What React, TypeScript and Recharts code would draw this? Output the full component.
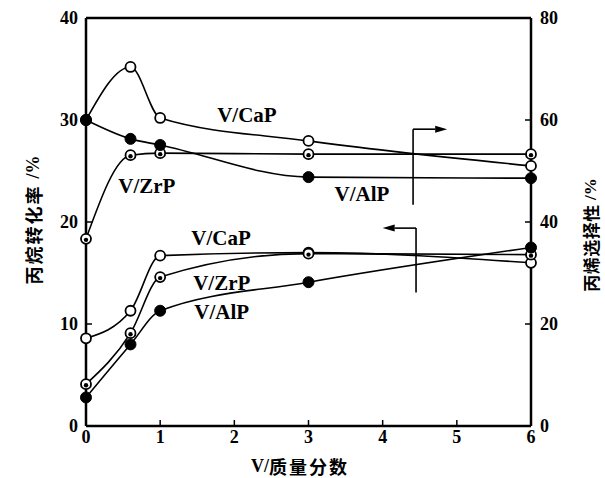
import { LineChart, Line, XAxis, YAxis, ReferenceLine, ReferenceDot } from "recharts";

// V loading (mass fraction)
const loading = [0, 0.6, 1, 3, 6];

// propane conversion /% (left axis)
const convCaP = [8.6, 11.3, 16.7, 17.0, 16.0];
const convZrP = [4.1, 9.1, 14.6, 16.9, 16.8];
const convAlP = [2.8, 8.0, 11.3, 14.1, 17.5];

// propylene selectivity /% (right axis)
const selCaP = [60, 70.4, 60.4, 55.9, 51.0];
const selZrP = [36.7, 53.1, 53.5, 53.3, 53.3];
const selAlP = [60, 56.3, 55.1, 48.8, 48.6];

const xTicks = [0, 1, 2, 3, 4, 5, 6];
const leftTicks = [0, 10, 20, 30, 40];
const rightTicks = [0, 20, 40, 60, 80];

const data = loading.map((v, i) => ({
  v,
  convCaP: convCaP[i], convZrP: convZrP[i], convAlP: convAlP[i],
  selCaP: selCaP[i], selZrP: selZrP[i], selAlP: selAlP[i],
}));

// curve labels, in left-axis units
const curveLabels = [
  { text: "V/CaP", x: 2.17, y: 30.5 },
  { text: "V/ZrP", x: 0.82, y: 23.6 },
  { text: "V/AlP", x: 3.72, y: 22.8 },
  { text: "V/CaP", x: 1.82, y: 18.5 },
  { text: "V/ZrP", x: 1.83, y: 14.1 },
  { text: "V/AlP", x: 1.83, y: 11.2 },
];

const SERIF = "Liberation Serif";
const CJK = "Noto Sans CJK SC";
const tickStyle = { fontSize: 18, fontWeight: 700, fill: "#000", fontFamily: SERIF };

const openDot = (p: any) => (
  <circle key={p.index} cx={p.cx} cy={p.cy} r={5} fill="#fff" stroke="#000" strokeWidth={1.8} />
);
const halfDot = (p: any) => (
  <g key={p.index}>
    <circle cx={p.cx} cy={p.cy} r={5} fill="#fff" stroke="#000" strokeWidth={1.8} />
    <circle cx={p.cx} cy={p.cy + 1} r={2.2} fill="#000" />
  </g>
);
const fullDot = (p: any) => (
  <circle key={p.index} cx={p.cx} cy={p.cy} r={5.5} fill="#000" stroke="#000" strokeWidth={1} />
);

const Arrow = (p: any) => {
  const { x1, y1, x2, y2 } = p;
  const dx = x2 - x1, dy = y2 - y1;
  const len = Math.hypot(dx, dy) || 1;
  const ux = dx / len, uy = dy / len;
  const bx = x2 - ux * 12, by = y2 - uy * 12;
  return (
    <g>
      <line x1={x1} y1={y1} x2={bx} y2={by} stroke="#000" strokeWidth={1.6} />
      <polygon
        points={`${x2},${y2} ${bx - uy * 3.5},${by + ux * 3.5} ${bx + uy * 3.5},${by - ux * 3.5}`}
        fill="#000"
      />
    </g>
  );
};

// axis title: CJK part in a CJK face, latin part in serif
const Title = ({ x, y, head, cjk, tail, rotate, size, spacing }: any) => (
  <text x={x} y={y} textAnchor="middle" dominantBaseline="central"
    transform={rotate ? `rotate(-90 ${x} ${y})` : undefined}
    fill="#000" fontSize={size} fontWeight={700}>
    {head && <tspan fontFamily={SERIF}>{head}</tspan>}
    <tspan fontFamily={CJK} style={{ letterSpacing: spacing }}>{cjk}</tspan>
    {tail && <tspan fontFamily={SERIF}>{tail}</tspan>}
  </text>
);

const lineProps = {
  type: "monotone" as const,
  stroke: "#000",
  strokeWidth: 1.6,
  isAnimationActive: false,
};

export default function App() {
  return (
    <div style={{ position: "absolute", left: 0, top: 0, background: "#fff" }}>
      <LineChart width={605} height={478} data={data} margin={{ top: 18, right: 24, bottom: 22, left: 30 }}>
        <XAxis
          dataKey="v" type="number" domain={[0, 6]} ticks={xTicks}
          axisLine={{ stroke: "#000", strokeWidth: 2.5 }}
          tickLine={{ stroke: "#000", strokeWidth: 1.5 }}
          tickSize={-6} tickMargin={10} height={30}
          tick={tickStyle}
          label={{ content: () => <Title x={300} y={466} head="V/" cjk="质量分数" size={18} spacing={2} /> }}
        />
        <YAxis
          yAxisId="left" domain={[0, 40]} ticks={leftTicks} width={56}
          axisLine={{ stroke: "#000", strokeWidth: 2.5 }}
          tickLine={{ stroke: "#000", strokeWidth: 1.5 }}
          tickSize={-6} tickMargin={14}
          tick={tickStyle}
          label={{ content: () => <Title x={33} y={220} rotate cjk="丙烷转化率 " tail="/%" size={18} spacing={2} /> }}
        />
        <YAxis
          yAxisId="right" orientation="right" domain={[0, 80]} ticks={rightTicks} width={50}
          axisLine={{ stroke: "#000", strokeWidth: 2.5 }}
          tickLine={{ stroke: "#000", strokeWidth: 1.5 }}
          tickSize={-6} tickMargin={15}
          tick={tickStyle}
          label={{ content: () => <Title x={590} y={235} rotate cjk="丙烯选择性 " tail="/%" size={17} spacing={0.5} /> }}
        />
        <ReferenceLine yAxisId="left" y={40} stroke="#000" strokeWidth={2.5} />

        <Line yAxisId="right" dataKey="selCaP" {...lineProps} dot={openDot} />
        <Line yAxisId="right" dataKey="selZrP" {...lineProps} dot={halfDot} />
        <Line yAxisId="right" dataKey="selAlP" {...lineProps} dot={fullDot} />
        <Line yAxisId="left" dataKey="convCaP" {...lineProps} dot={openDot} />
        <Line yAxisId="left" dataKey="convZrP" {...lineProps} dot={halfDot} />
        <Line yAxisId="left" dataKey="convAlP" {...lineProps} dot={fullDot} />

        {/* arrows pointing to the axes */}
        <ReferenceLine yAxisId="left" segment={[{ x: 4.41, y: 21.7 }, { x: 4.41, y: 29.1 }]} stroke="#000" strokeWidth={1.6} />
        <ReferenceLine yAxisId="left" segment={[{ x: 4.41, y: 29.1 }, { x: 4.87, y: 29.1 }]} shape={Arrow} />
        <ReferenceLine yAxisId="left" segment={[{ x: 4.45, y: 13.1 }, { x: 4.45, y: 19.4 }]} stroke="#000" strokeWidth={1.6} />
        <ReferenceLine yAxisId="left" segment={[{ x: 4.45, y: 19.4 }, { x: 4.0, y: 19.4 }]} shape={Arrow} />

        {curveLabels.map((l, i) => (
          <ReferenceDot
            key={i} yAxisId="left" x={l.x} y={l.y} r={0.1} fill="none" stroke="none"
            label={{ value: l.text, position: "center", fill: "#000", fontSize: 21, fontWeight: 700, fontFamily: SERIF }}
          />
        ))}
      </LineChart>
    </div>
  );
}
